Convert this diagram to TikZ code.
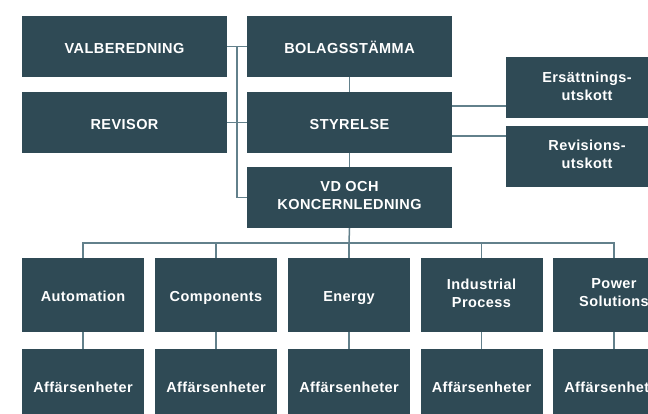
\documentclass[tikz,border=0pt]{standalone}
\usepackage{fontspec}
\setmainfont{Liberation Sans}[LetterSpace=3]
\definecolor{boxfill}{HTML}{2F4A55}
\definecolor{linkline}{HTML}{62808B}
\tikzset{
  orgbox/.style={rectangle, fill=boxfill, text=white, align=center, inner sep=0pt,
    font=\fontsize{14.5}{18}\selectfont\bfseries,
    execute at begin node=\rule{0pt}{17.4pt},
    execute at end node=\rule[-4pt]{0pt}{4pt}},
  topbox/.style={orgbox, minimum width=205pt, minimum height=61pt},
  sidebox/.style={orgbox, minimum width=162pt, minimum height=61pt},
  unitbox/.style={orgbox, minimum width=122pt, minimum height=74pt}
}
\begin{document}
\begin{tikzpicture}[x=1pt, y=-1pt]
  \useasboundingbox (0,0) rectangle (648,414);
  \clip (0,0) rectangle (648,414);
  \path
    (124.5,46.5) node[topbox] (val){VALBEREDNING}
    (124.5,122.5) node[topbox] (rev){REVISOR}
    (349.5,46.5) node[topbox] (bol){BOLAGSSTÄMMA}
    (349.5,122.5) node[topbox] (sty){STYRELSE}
    (349.5,197.5) node[topbox] (vd){VD OCH\\KONCERNLEDNING}
    (587,88) node[sidebox] (ers){Ersättnings-\\utskott}
    (587,156.5) node[sidebox] (rvu){Revisions-\\utskott};
  \path
    (83,295) node[unitbox] (a1){Automation}
    (216,295) node[unitbox] (a2){Components}
    (349,295) node[unitbox] (a3){Energy}
    (481.5,295) node[unitbox] (a4){Industrial\\Process}
    (614,295) node[unitbox] (a5){Power\\Solutions}
    (83,386) node[unitbox] (b1){Affärsenheter}
    (216,386) node[unitbox] (b2){Affärsenheter}
    (349,386) node[unitbox] (b3){Affärsenheter}
    (481.5,386) node[unitbox] (b4){Affärsenheter}
    (614,386) node[unitbox] (b5){Affärsenheter};
  \coordinate (k) at (237,46.5);
  \coordinate (j) at (349,243);
  \begin{scope}[draw=linkline, line width=1.5pt]
    \draw (val) to (bol);
    \draw (rev) to (sty);
    \draw (k) |- (vd.west);
    \draw (bol) to (sty);
    \draw (sty) to (vd);
    \draw ([yshift=16.5pt]sty.east) to ([yshift=-18pt]ers.west);
    \draw ([yshift=-13.5pt]sty.east) to ([yshift=20.5pt]rvu.west);
    \draw (vd.south) to (j);
    \draw (a1.north) |- (j) -| (a5.north);
    \draw (a2.north) to (a2.north |- j);
    \draw (a3.north) to (a3.north |- j);
    \draw (a4.north) to (a4.north |- j);
    \draw (a1) to (b1);
    \draw (a2) to (b2);
    \draw (a3) to (b3);
    \draw (a4) to (b4);
    \draw (a5) to (b5);
  \end{scope}
\end{tikzpicture}
\end{document}
